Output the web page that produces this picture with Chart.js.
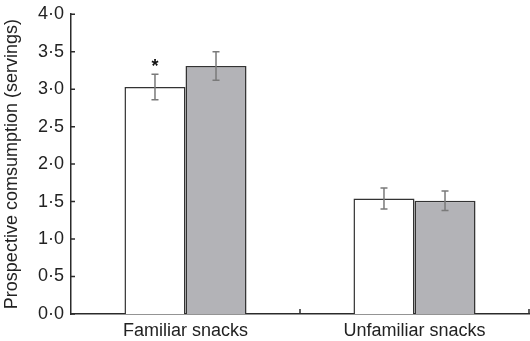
<!DOCTYPE html>
<html>
<head>
<meta charset="utf-8">
<script src="https://cdn.jsdelivr.net/npm/chart.js@4/dist/chart.umd.min.js"></script>
<style>
  html, body { margin: 0; padding: 0; background: #fff; }
  #wrap { width: 530px; height: 341px; }
</style>
</head>
<body>
<div id="wrap"><canvas id="grafico"></canvas></div>
<script>
  // dados do grafico
  const categorias = ['Familiar snacks', 'Unfamiliar snacks'];
  const valoresBranco = [3.03, 1.54];
  const erroBranco = [0.17, 0.14];
  const valoresCinza = [3.31, 1.51];
  const erroCinza = [0.19, 0.13];
  const yTicks = [0, 0.5, 1, 1.5, 2, 2.5, 3, 3.5, 4];
  const tituloY = 'Prospective comsumption (servings)';

  const fonte = 'Arial, "Liberation Sans", Helvetica, sans-serif';
  const corEixo = '#2b2b2b';

  // barras de erro, asterisco e marcas de eixo para dentro
  const pluginExtras = {
    id: 'extras',
    afterDatasetsDraw(chart) {
      const ctx = chart.ctx;
      const yScale = chart.scales.y;
      const erros = [erroBranco, erroCinza];
      ctx.save();
      ctx.strokeStyle = '#7a7a7a';
      ctx.lineWidth = 1.5;
      chart.data.datasets.forEach((ds, d) => {
        const meta = chart.getDatasetMeta(d);
        meta.data.forEach((bar, i) => {
          const v = ds.data[i];
          const e = erros[d][i];
          const yTop = yScale.getPixelForValue(v + e);
          const yBot = yScale.getPixelForValue(v - e);
          const x = bar.x;
          ctx.beginPath();
          ctx.moveTo(x, yTop); ctx.lineTo(x, yBot);
          ctx.moveTo(x - 3.5, yTop); ctx.lineTo(x + 3.5, yTop);
          ctx.moveTo(x - 3.5, yBot); ctx.lineTo(x + 3.5, yBot);
          ctx.stroke();
        });
      });
      // asterisco sobre Familiar snacks (branco)
      const barra = chart.getDatasetMeta(0).data[0];
      const yStar = yScale.getPixelForValue(valoresBranco[0] + erroBranco[0]);
      ctx.fillStyle = '#111';
      ctx.font = 'bold 18px ' + fonte;
      ctx.textAlign = 'center';
      ctx.textBaseline = 'alphabetic';
      ctx.fillText('*', barra.x, yStar - 2);
      ctx.restore();
    },
    afterDraw(chart) {
      const ctx = chart.ctx;
      const xScale = chart.scales.x;
      const yScale = chart.scales.y;
      const area = chart.chartArea;
      ctx.save();
      ctx.strokeStyle = corEixo;
      ctx.lineWidth = 1.5;
      ctx.beginPath();
      yTicks.forEach(t => {
        const y = yScale.getPixelForValue(t);
        ctx.moveTo(area.left, y); ctx.lineTo(area.left + 4, y);
      });
      // marcas entre categorias
      for (let i = 0; i < categorias.length; i++) {
        const x = xScale.getPixelForValue(i) + (xScale.getPixelForValue(1) - xScale.getPixelForValue(0)) / 2;
        ctx.moveTo(x, area.bottom); ctx.lineTo(x, area.bottom - 5);
      }
      ctx.stroke();
      ctx.restore();
    }
  };

  const dados = {
    labels: categorias,
    datasets: [
      {
        label: 'Branco',
        data: valoresBranco,
        backgroundColor: '#ffffff',
        borderColor: '#333333',
        borderWidth: 1.5
      },
      {
        label: 'Cinza',
        data: valoresCinza,
        backgroundColor: '#b3b3b7',
        borderColor: '#333333',
        borderWidth: 1.5
      }
    ]
  };

  const config = {
    type: 'bar',
    data: dados,
    options: {
      responsive: true,
      maintainAspectRatio: false,
      animation: false,
      layout: { padding: { top: 13, right: 1, left: 0, bottom: 0 } },
      datasets: { bar: { categoryPercentage: 0.533, barPercentage: 1.0 } },
      plugins: {
        legend: { display: false },
        tooltip: { enabled: false }
      },
      scales: {
        x: {
          grid: { display: false, drawTicks: false },
          border: { display: true, color: corEixo, width: 1.5 },
          ticks: { color: '#222', font: { family: fonte, size: 18 }, padding: 6 },
          afterFit(scale) { scale.height = 27; }
        },
        y: {
          min: 0,
          max: 4,
          afterBuildTicks(scale) { scale.ticks = yTicks.map(v => ({ value: v })); },
          grid: { display: false, drawTicks: false },
          border: { display: true, color: corEixo, width: 1.5 },
          ticks: {
            color: '#222',
            font: { family: fonte, size: 18, lineHeight: 0.8 },
            padding: 7,
            callback: v => v.toFixed(1).replace('.', '\u00b7')
          },
          title: {
            display: true,
            text: tituloY,
            color: '#222',
            font: { family: fonte, size: 18 },
            padding: { top: 1, bottom: 0 }
          },
          afterFit(scale) { scale.width = 71; }
        }
      }
    },
    plugins: [pluginExtras]
  };

  let meuGrafico = new Chart(document.getElementById('grafico'), config);
</script>
</body>
</html>
